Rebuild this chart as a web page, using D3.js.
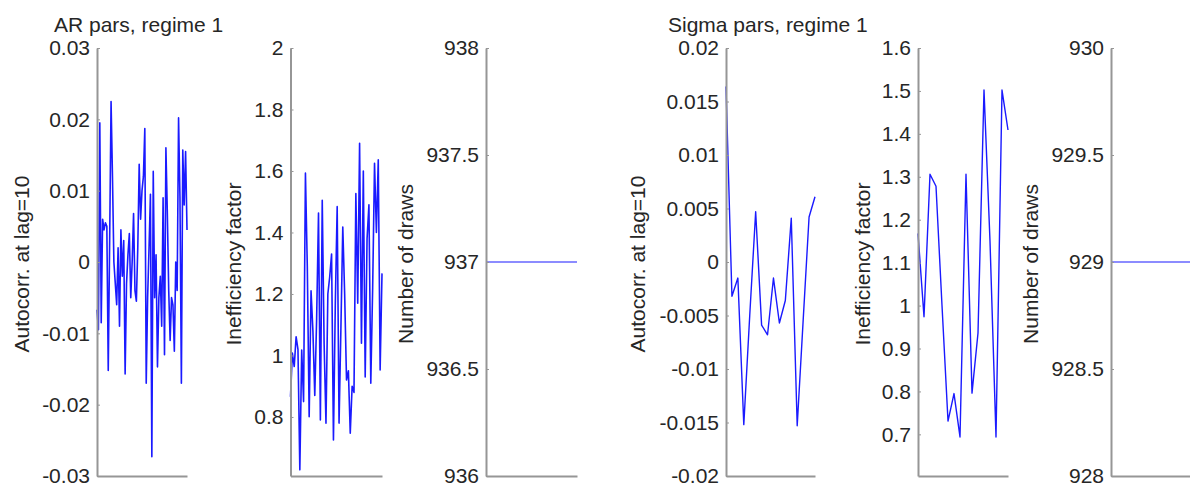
<!DOCTYPE html>
<html>
<head>
<meta charset="utf-8">
<script src="https://cdn.jsdelivr.net/npm/d3@7/dist/d3.min.js"></script>
<style>
  html, body { margin: 0; padding: 0; background: #fff; }
  svg { display: block; font-family: "Liberation Sans", Arial, Helvetica, sans-serif; }
</style>
</head>
<body>
<svg id="chart" width="1190" height="486"></svg>
<script>
// ---- AR parameters, regime 1 ----
const arAutocorr = [
  -0.0067, -0.0095, 0.0195, -0.0085, 0.0060, 0.0045, 0.0055, 0.0050, -0.0152, 0.0030,
  0.0225, 0.0120, 0.0000, -0.0030, -0.0060, 0.0020, -0.0090, 0.0045, -0.0020, 0.0030,
  -0.0157, -0.0030, 0.0010, 0.0040, -0.0050, 0.0000, 0.0068, -0.0040, -0.0055, 0.0020,
  0.0137, 0.0060, 0.0100, 0.0120, 0.0187, -0.0170, -0.0050, 0.0020, 0.0095, -0.0273,
  0.0127, -0.0050, 0.0010, -0.0147, -0.0050, -0.0020, -0.0090, 0.0090, -0.0130, 0.0160,
  0.0070, -0.0040, -0.0110, -0.0050, -0.0060, -0.0125, 0.0000, -0.0040, 0.0202, 0.0090,
  -0.0170, 0.0157, 0.0080, 0.0155, 0.0045
];
const arIneff = [
  0.866, 1.008, 0.964, 1.061, 1.020, 0.628, 1.018, 0.850, 1.593, 1.289,
  0.801, 1.210, 1.080, 0.870, 1.120, 1.463, 0.790, 1.505, 1.040, 0.780,
  1.200, 1.256, 1.330, 0.725, 1.170, 1.484, 0.780, 1.090, 1.418, 1.200,
  0.920, 0.950, 0.747, 0.900, 0.880, 1.527, 1.170, 1.690, 1.040, 1.600,
  0.930, 1.380, 1.490, 0.910, 1.220, 1.625, 1.400, 1.636, 0.953, 1.267
];
const arDraws = [
  937, 937, 937, 937, 937, 937, 937, 937, 937, 937,
  937, 937, 937, 937, 937, 937, 937, 937, 937, 937,
  937, 937, 937, 937, 937, 937, 937, 937, 937, 937,
  937, 937, 937, 937, 937, 937, 937, 937, 937, 937,
  937, 937, 937, 937, 937, 937, 937, 937, 937, 937
];

// ---- Sigma parameters, regime 1 ----
const sigmaAutocorr = [
  0.0164, -0.0032, -0.0015, -0.0152, -0.0050, 0.0047, -0.0059, -0.0068,
  -0.0015, -0.0057, -0.0036, 0.0041, -0.0153, -0.0055, 0.0042, 0.0061
];
const sigmaIneff = [
  1.168, 0.974, 1.306, 1.278, 1.000, 0.731, 0.795, 0.694,
  1.306, 0.796, 0.936, 1.502, 1.150, 0.694, 1.502, 1.409
];
const sigmaDraws = [
  929, 929, 929, 929, 929, 929, 929, 929,
  929, 929, 929, 929, 929, 929, 929, 929
];

// ---- axis limits and tick values ----
const autocorrArDomain = [-0.03, 0.03];
const autocorrArTicks = [-0.03, -0.02, -0.01, 0, 0.01, 0.02, 0.03];
const ineffArDomain = [0.608, 2];
const ineffArTicks = [0.8, 1, 1.2, 1.4, 1.6, 1.8, 2];
const drawsArDomain = [936, 938];
const drawsArTicks = [936, 936.5, 937, 937.5, 938];
const autocorrSigmaDomain = [-0.02, 0.02];
const autocorrSigmaTicks = [-0.02, -0.015, -0.01, -0.005, 0, 0.005, 0.01, 0.015, 0.02];
const ineffSigmaDomain = [0.603, 1.6];
const ineffSigmaTicks = [0.7, 0.8, 0.9, 1, 1.1, 1.2, 1.3, 1.4, 1.5, 1.6];
const drawsSigmaDomain = [928, 930];
const drawsSigmaTicks = [928, 928.5, 929, 929.5, 930];

const titles = ["AR pars, regime 1", "Sigma pars, regime 1"];
const yLabels = ["Autocorr. at lag=10", "Inefficiency factor", "Number of draws"];

// ---- layout ----
const svg = d3.select("#chart");
const yTop = 48, yBot = 476;
const fontSize = 21;
const textColor = "#262626";
const axisColor = "#969696";
const lineColor = "#1a1aff";
const flatColor = "#8c8cff";

const panels = [
  { data: arAutocorr,    domain: autocorrArDomain,    ticks: autocorrArTicks,    label: yLabels[0], x0: 97,    x1: 187,  labelX: 21,    lw: 1.6, color: lineColor },
  { data: arIneff,       domain: ineffArDomain,       ticks: ineffArTicks,       label: yLabels[1], x0: 290.5, x1: 382,  labelX: 233.5, lw: 1.6, color: lineColor },
  { data: arDraws,       domain: drawsArDomain,       ticks: drawsArTicks,       label: yLabels[2], x0: 486,   x1: 577,  labelX: 405,   lw: 2,   color: flatColor },
  { data: sigmaAutocorr, domain: autocorrSigmaDomain, ticks: autocorrSigmaTicks, label: yLabels[0], x0: 726,   x1: 815,  labelX: 637,   lw: 1.4, color: lineColor },
  { data: sigmaIneff,    domain: ineffSigmaDomain,    ticks: ineffSigmaTicks,    label: yLabels[1], x0: 918,   x1: 1008, labelX: 862,   lw: 1.4, color: lineColor },
  { data: sigmaDraws,    domain: drawsSigmaDomain,    ticks: drawsSigmaTicks,    label: yLabels[2], x0: 1111,  x1: 1201, labelX: 1030,  lw: 2,   color: flatColor }
];

// plain hyphen-minus, no trailing zeros
const fmt = d => String(+d.toFixed(6));

panels.forEach(p => {
  const x = d3.scaleLinear().domain([1, p.data.length]).range([p.x0, p.x1]);
  const y = d3.scaleLinear().domain(p.domain).range([yBot, yTop]);

  const g = svg.append("g");

  // series line
  g.append("path")
    .datum(p.data)
    .attr("fill", "none")
    .attr("stroke", p.color)
    .attr("stroke-width", p.lw)
    .attr("stroke-linejoin", "round")
    .attr("d", d3.line().x((d, i) => x(i + 1)).y(d => y(d)));

  // bottom axis (no ticks)
  const xa = g.append("g")
    .attr("transform", `translate(0,${yBot})`)
    .call(d3.axisBottom(x).tickValues([]).tickSizeOuter(0));
  xa.select(".domain").attr("stroke", axisColor).attr("stroke-width", 2);

  // left axis, ticks pointing inward
  const ya = g.append("g")
    .attr("transform", `translate(${p.x0},0)`)
    .call(d3.axisLeft(y).tickValues(p.ticks).tickFormat(fmt)
      .tickSize(-3).tickSizeOuter(0).tickPadding(7));
  ya.select(".domain").attr("stroke", axisColor).attr("stroke-width", 2);
  ya.selectAll(".tick line").attr("stroke", axisColor).attr("stroke-width", 1);
  ya.selectAll(".tick text")
    .attr("fill", textColor)
    .style("font-size", fontSize + "px")
    .style("font-family", "'Liberation Sans', Arial, sans-serif");

  // y label
  g.append("text")
    .attr("transform", `translate(${p.labelX},${(yTop + yBot) / 2 + 2}) rotate(-90)`)
    .attr("text-anchor", "middle")
    .attr("dominant-baseline", "central")
    .attr("fill", textColor)
    .style("font-size", fontSize + "px")
    .text(p.label);
});

// group titles
svg.append("text").attr("x", 54).attr("y", 32)
  .attr("fill", textColor).style("font-size", fontSize + "px").text(titles[0]);
svg.append("text").attr("x", 668).attr("y", 32)
  .attr("fill", textColor).style("font-size", fontSize + "px").text(titles[1]);
</script>
</body>
</html>
